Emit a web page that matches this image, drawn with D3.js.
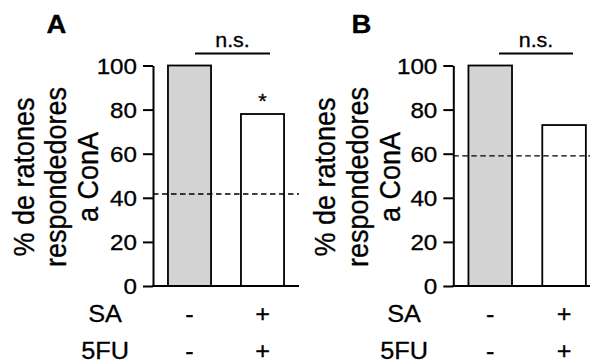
<!DOCTYPE html>
<html><head><meta charset="utf-8">
<script src="https://cdn.jsdelivr.net/npm/d3@7"></script>
<style>
body{margin:0;background:#fff}
svg text{font-family:"Liberation Sans",Arial,Helvetica,sans-serif;fill:#000;stroke:#000;stroke-width:0.3px}
</style>
</head><body><svg id="c" width="590" height="363"></svg>
<script>
// ---- data ----
const panelLabels = ["A", "B"];
const categories = ["control", "SA+5FU"];
const valuesA = [100, 78];
const valuesB = [100, 73];
const thresholdA = 41.7;
const thresholdB = 59;
const yTicks = [0, 20, 40, 60, 80, 100];
const rowLabels = ["SA", "5FU"];
const saSigns = ["-", "+"];
const fuSigns = ["-", "+"];
const barFills = ["#d3d3d3", "#ffffff"];
const sigLabel = "n.s.";
const starsA = ["", "*"];
const starsB = ["", ""];
const titleLines = ["% de ratones", "respondedores", "a ConA"];

// ---- drawing ----
const SX = 1.1;
const svg = d3.select("#c");
svg.append("rect").attr("width", 590).attr("height", 363).attr("fill", "#fff");

function txt(g, x, y, s, size, anchor, rot, weight) {
  return g.append("text")
    .attr("transform", `translate(${x},${y}) scale(${SX},1)` + (rot ? " rotate(-90)" : ""))
    .attr("text-anchor", anchor || "start")
    .attr("font-size", size)
    .attr("font-weight", weight || "normal")
    .text(s);
}

const y = d3.scaleLinear().domain([0, 100]).range([286, 65.5]);

function panel(cfg) {
  const g = svg.append("g");
  const x = d3.scaleBand().domain(categories).range([cfg.axisX, cfg.bandEnd])
    .paddingInner(0.41).paddingOuter(0.205);

  // bars
  g.selectAll("rect.bar").data(cfg.values).enter().append("rect")
    .attr("class", "bar")
    .attr("x", (d, i) => x(categories[i]))
    .attr("y", d => y(d))
    .attr("width", x.bandwidth())
    .attr("height", d => y(0) - y(d))
    .attr("fill", (d, i) => barFills[i])
    .attr("stroke", "#000").attr("stroke-width", 1.8);

  // threshold dashed line
  g.append("line")
    .attr("x1", cfg.axisX).attr("x2", cfg.axisEnd)
    .attr("y1", y(cfg.threshold)).attr("y2", y(cfg.threshold))
    .attr("stroke", "#000").attr("stroke-width", 1.4)
    .attr("stroke-dasharray", "5.5,3.5");

  // y axis
  const ax = g.append("g").attr("transform", `translate(${cfg.axisX},0)`)
    .call(d3.axisLeft(y).tickValues(yTicks).tickSizeInner(10).tickSizeOuter(0));
  ax.select(".domain").attr("stroke", "#000").attr("stroke-width", 2);
  ax.selectAll(".tick line").attr("stroke", "#000").attr("stroke-width", 2);
  ax.selectAll(".tick text")
    .attr("x", null).attr("dy", null)
    .attr("transform", `translate(-16,7.8) scale(${SX},1)`)
    .attr("font-size", 22).attr("fill", "#000")
    .attr("font-family", null);

  // x axis line
  g.append("line")
    .attr("x1", cfg.axisX - 1).attr("x2", cfg.axisEnd)
    .attr("y1", y(0)).attr("y2", y(0))
    .attr("stroke", "#000").attr("stroke-width", 2);

  // stars
  cfg.stars.forEach((s, i) => {
    if (s) txt(g, x(categories[i]) + x.bandwidth() / 2, cfg.starY, s, 20, "middle");
  });

  // significance bar
  g.append("line")
    .attr("x1", cfg.sigX1).attr("x2", cfg.sigX2)
    .attr("y1", 53.5).attr("y2", 53.5)
    .attr("stroke", "#000").attr("stroke-width", 1.8);
  txt(g, (cfg.sigX1 + cfg.sigX2) / 2, 46.5, sigLabel, 19.5, "middle");

  // panel letter
  txt(g, cfg.letterX, 33, cfg.letter, 25, "start", false, "bold");

  // y title
  titleLines.forEach((t, i) => {
    txt(g, cfg.titleX[i], 177, t, 27, "middle", true);
  });

  // condition rows
  txt(g, cfg.rowLabelX, 321.5, rowLabels[0], 23, "middle");
  txt(g, cfg.rowLabelX, 358.5, rowLabels[1], 23, "middle");
  categories.forEach((c, i) => {
    const cx = x(c) + x.bandwidth() / 2;
    txt(g, cx, 321.5, saSigns[i], 23, "middle");
    txt(g, cx, 358.5, fuSigns[i], 23, "middle");
  });
}

panel({
  letter: panelLabels[0], letterX: 46.5,
  axisX: 153, bandEnd: 299, axisEnd: 299,
  values: valuesA, threshold: thresholdA, stars: starsA, starY: 108,
  sigX1: 195, sigX2: 270,
  titleX: [33.5, 66, 97.5], rowLabelX: 105
});
panel({
  letter: panelLabels[1], letterX: 351.5,
  axisX: 453.3, bandEnd: 601, axisEnd: 592,
  values: valuesB, threshold: thresholdB, stars: starsB, starY: 108,
  sigX1: 499, sigX2: 573,
  titleX: [335, 368, 400], rowLabelX: 404
});
</script>
</body></html>
